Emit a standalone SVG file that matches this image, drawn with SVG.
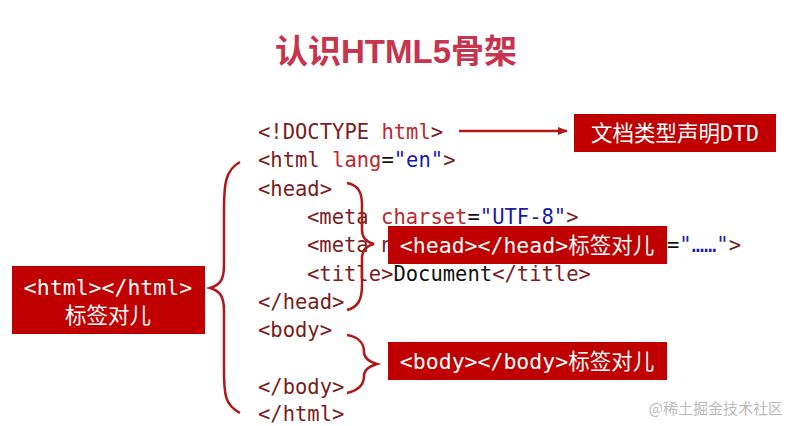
<svg xmlns="http://www.w3.org/2000/svg" width="793" height="426" viewBox="0 0 793 426">
<style>
.c{font-family:"DejaVu Sans Mono",monospace;font-size:20.5px;fill:#7b1c1c}
.a{fill:#c0262d}.v{fill:#1a1aa8}.k{fill:#111}
.box{fill:#c00000}
.bt{font-family:"DejaVu Sans Mono","Noto Sans CJK SC",monospace;font-size:21.5px;fill:#fff}
.br{fill:none;stroke:#b01818;stroke-width:2.5}
</style>
<defs><marker id="ah" markerWidth="10" markerHeight="8" refX="9" refY="4" orient="auto" markerUnits="userSpaceOnUse"><path d="M0,0L10,4L0,8z" fill="#b01818"/></marker></defs>
<rect width="793" height="426" fill="#fff"/>
<text x="396" y="63" text-anchor="middle" font-family="'Liberation Sans','Noto Sans CJK SC',sans-serif" font-weight="bold" font-size="33" fill="#c8334d">认识HTML5骨架</text>
<g id="code" class="c">
<text x="258" y="139">&lt;!DOCTYPE <tspan class="a">html</tspan>&gt;</text>
<text x="258" y="167">&lt;html <tspan class="a">lang</tspan><tspan class="k">=</tspan><tspan class="v">"en"</tspan>&gt;</text>
<text x="258" y="196">&lt;head&gt;</text>
<text x="307" y="224">&lt;meta <tspan class="a">charset</tspan><tspan class="k">=</tspan><tspan class="v">"UTF-8"</tspan>&gt;</text>
<text x="307" y="252">&lt;meta n<tspan x="667" class="k">=</tspan><tspan class="v">"……"</tspan>&gt;</text>
<text x="307" y="281">&lt;title&gt;<tspan class="k">Document</tspan>&lt;/title&gt;</text>
<text x="258" y="309">&lt;/head&gt;</text>
<text x="258" y="337">&lt;body&gt;</text>
<text x="258" y="394">&lt;/body&gt;</text>
<text x="258" y="421">&lt;/html&gt;</text>
</g>
<g id="connectors">
<line x1="459" y1="131" x2="567" y2="131" stroke="#b01818" stroke-width="2.5" marker-end="url(#ah)"/>
<path class="br" d="M240,162 C225,170 224,185 224,210 L224,265 C224,280 220,285 210,288 C220,291 224,296 224,311 L224,370 C224,395 225,405 240,413"/>
<path class="br" d="M347,183 C358,185 362,192 362,205 L362,230 C362,238 366,242 374,244 C366,246 362,250 362,258 L362,285 C362,300 358,307 347,310"/>
<path class="br" d="M347,335 C360,337 364,345 364,352 C364,358 370,362 377,364 C370,366 364,370 364,376 C364,384 360,390 347,393"/>
</g>
<g id="dtd"><rect class="box" x="574" y="114" width="202" height="38"/><text class="bt" x="675" y="141" text-anchor="middle">文档类型声明DTD</text></g>
<g id="head"><rect class="box" x="388" y="226" width="279" height="38"/><text class="bt" x="527" y="253" text-anchor="middle">&lt;head&gt;&lt;/head&gt;标签对儿</text></g>
<g id="body"><rect class="box" x="388" y="342" width="279" height="38"/><text class="bt" x="527" y="369" text-anchor="middle">&lt;body&gt;&lt;/body&gt;标签对儿</text></g>
<g id="html"><rect class="box" x="12" y="266" width="193" height="68"/><text class="bt" x="108" y="295" text-anchor="middle">&lt;html&gt;&lt;/html&gt;</text><text class="bt" x="108" y="323" text-anchor="middle">标签对儿</text></g>
<text x="783" y="414" text-anchor="end" font-family="'Noto Sans CJK SC',sans-serif" font-size="15" fill="#bbb">@稀土掘金技术社区</text>
</svg>
